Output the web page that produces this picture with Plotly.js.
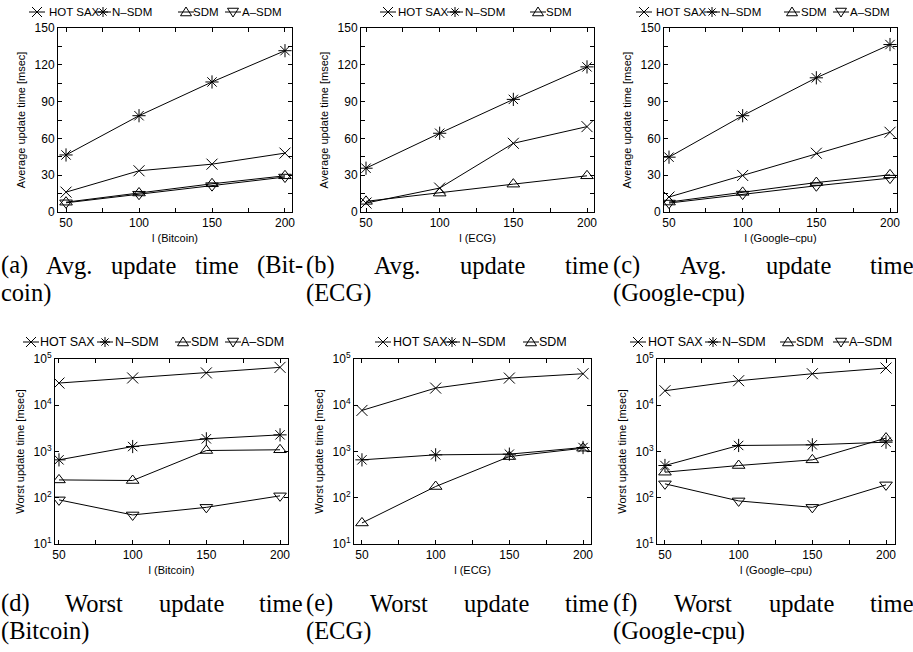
<!DOCTYPE html>
<html>
<head>
<meta charset="utf-8">
<script src="https://cdn.plot.ly/plotly-3.0.1.min.js"></script>
<style>html,body{margin:0;padding:0;background:#fff;}#chart{width:913px;height:652px;}</style>
</head>
<body>
<div id="chart"></div>
<script>
// ---------------- data ----------------
const windowLengths = [50, 100, 150, 200];
const seriesNames = ["HOT SAX", "N–SDM", "SDM", "A–SDM"];

// Average update time [msec]
const avgBitcoinHOTSAX = [16.2, 33.6, 39, 48];
const avgBitcoinNSDM   = [46.5, 78.5, 106, 131.5];
const avgBitcoinSDM    = [8, 15.5, 23, 29.5];
const avgBitcoinASDM   = [7.5, 14.5, 21.5, 28.5];

const avgECGHOTSAX = [7.3, 19.5, 56, 69.6];
const avgECGNSDM   = [35.7, 64.2, 91.8, 118.3];
const avgECGSDM    = [8.7, 15.4, 22.7, 29.5];

const avgGoogleHOTSAX = [12.2, 29.8, 47.9, 65];
const avgGoogleNSDM   = [44.7, 78.5, 109.4, 136.5];
const avgGoogleSDM    = [8.1, 16, 24, 30.3];
const avgGoogleASDM   = [7.3, 14.6, 21.4, 27.6];

// Worst update time [msec]
const worstBitcoinHOTSAX = [30200, 38900, 50000, 66000];
const worstBitcoinNSDM   = [660, 1280, 1880, 2290];
const worstBitcoinSDM    = [243, 236, 1050, 1090];
const worstBitcoinASDM   = [90, 42.5, 62, 110];

const worstECGHOTSAX = [7730, 23500, 38700, 48000];
const worstECGNSDM   = [660, 847, 876, 1220];
const worstECGSDM    = [28.5, 175, 777, 1180];

const worstGoogleHOTSAX = [20600, 33900, 48000, 63800];
const worstGoogleNSDM   = [498, 1350, 1394, 1590];
const worstGoogleSDM    = [357, 498, 660, 1950];
const worstGoogleASDM   = [200, 85.5, 62, 190];

const logTickVals = [10, 100, 1000, 10000, 100000];
const logTickText = ["10<sup>1</sup>", "10<sup>2</sup>", "10<sup>3</sup>", "10<sup>4</sup>", "10<sup>5</sup>"];

const xTitles = ["l (Bitcoin)", "l (ECG)", "l (Google–cpu)", "l (Bitcoin)", "l (ECG)", "l (Google–cpu)"];
const yTitles = ["Average update time [msec]", "Worst update time [msec]"];

const captions = [
  {lines: [["(a)", "Avg.", "update", "time", "(Bit-"], ["coin)"]], x0: 0, x1: 302, row: 0},
  {lines: [["(b)", "Avg.", "update", "time"], ["(ECG)"]], x0: 305, x1: 608, row: 0},
  {lines: [["(c)", "Avg.", "update", "time"], ["(Google-cpu)"]], x0: 612, x1: 913, row: 0},
  {lines: [["(d)", "Worst", "update", "time"], ["(Bitcoin)"]], x0: 0, x1: 302, row: 1},
  {lines: [["(e)", "Worst", "update", "time"], ["(ECG)"]], x0: 305, x1: 608, row: 1},
  {lines: [["(f)", "Worst", "update", "time"], ["(Google-cpu)"]], x0: 612, x1: 913, row: 1}
];

// ---------------- layout helpers ----------------
const W = 913, H = 652;
const symbols = ["x-thin-open", "asterisk-open", "triangle-up-open", "triangle-down-open"];
const glyphs = ["x", "asterisk", "tri-up", "tri-down"];

// legend key layout per panel: y centre, font size, [sample centre x, text left x] per entry
const panels = [
  {series: [avgBitcoinHOTSAX, avgBitcoinNSDM, avgBitcoinSDM, avgBitcoinASDM], px: [58, 292], py: [28, 212], xr: [44.5, 204.8], log: false,
   legY: 12, legFont: 11.5, leg: [[37, 48], [103, 111], [186, 192], [233, 241]]},
  {series: [avgECGHOTSAX, avgECGNSDM, avgECGSDM, null], px: [361, 594], py: [28, 212], xr: [46.6, 204.75], log: false,
   legY: 12, legFont: 11.5, leg: [[388, 397], [455, 464], [538, 545], null]},
  {series: [avgGoogleHOTSAX, avgGoogleNSDM, avgGoogleSDM, avgGoogleASDM], px: [664, 897], py: [28, 212], xr: [46.6, 204.75], log: false,
   legY: 12, legFont: 11.5, leg: [[644, 655], [712, 720], [792, 800], [841, 849]]},
  {series: [worstBitcoinHOTSAX, worstBitcoinNSDM, worstBitcoinSDM, worstBitcoinASDM], px: [55, 288], py: [359, 544], xr: [47.3, 205.4], log: true,
   legY: 342, legFont: 12.5, leg: [[31, 39], [105, 114], [183, 190], [233, 240]]},
  {series: [worstECGHOTSAX, worstECGNSDM, worstECGSDM, null], px: [354, 591], py: [359, 544], xr: [44.6, 205.4], log: true,
   legY: 342, legFont: 12.5, leg: [[383, 392], [452, 461], [531, 538], null]},
  {series: [worstGoogleHOTSAX, worstGoogleNSDM, worstGoogleSDM, worstGoogleASDM], px: [657, 895], py: [359, 544], xr: [44.6, 206.1], log: true,
   legY: 342, legFont: 12.5, leg: [[638, 647], [713, 721], [788, 795], [841, 848]]}
];

const baseFont = "Liberation Sans, Arial, Helvetica, sans-serif";
const traces = [];
const layout = {
  width: W, height: H,
  margin: {l: 0, r: 0, t: 0, b: 0, autoexpand: false},
  paper_bgcolor: "#ffffff", plot_bgcolor: "#ffffff",
  font: {family: baseFont, color: "#000000", size: 11},
  annotations: [], shapes: [],
  showlegend: false
};

const PX = x => x / W, PY = y => 1 - y / H;
function seg(x1, y1, x2, y2) {
  return "M" + PX(x1) + "," + PY(y1) + "L" + PX(x2) + "," + PY(y2);
}
function glyphPath(kind, cx, cy, r) {
  if (kind === "x") return seg(cx - r, cy - r, cx + r, cy + r) + seg(cx - r, cy + r, cx + r, cy - r);
  if (kind === "asterisk") {
    const d = r * 0.72;
    return seg(cx, cy - r, cx, cy + r) + seg(cx - r, cy, cx + r, cy) + seg(cx - d, cy - d, cx + d, cy + d) + seg(cx - d, cy + d, cx + d, cy - d);
  }
  if (kind === "tri-up") return seg(cx, cy - r, cx + r * 1.1, cy + r * 0.75) + "L" + PX(cx - r * 1.1) + "," + PY(cy + r * 0.75) + "Z";
  return seg(cx, cy + r, cx + r * 1.1, cy - r * 0.75) + "L" + PX(cx - r * 1.1) + "," + PY(cy - r * 0.75) + "Z";
}

panels.forEach((p, i) => {
  const n = i + 1;
  const xa = "x" + (n === 1 ? "" : n), ya = "y" + (n === 1 ? "" : n);
  p.series.forEach((vals, k) => {
    if (!vals) return;
    traces.push({
      x: windowLengths, y: vals, name: seriesNames[k],
      xaxis: xa, yaxis: ya,
      type: "scatter", mode: "lines+markers",
      line: {color: "#000000", width: 1},
      marker: {symbol: symbols[k], size: 11, color: "#000000", line: {color: "#000000", width: 1}}
    });
    // legend key (drawn as layout decoration)
    const e = p.leg[k];
    const cx = e[0], cy = p.legY;
    layout.shapes.push({type: "path", xref: "paper", yref: "paper", path: seg(cx - 8, cy, cx + 8, cy), line: {color: "#000", width: 1}});
    layout.shapes.push({type: "path", xref: "paper", yref: "paper", path: glyphPath(glyphs[k], cx, cy, 5), line: {color: "#000", width: 1}, fillcolor: "rgba(0,0,0,0)"});
    layout.annotations.push({
      text: seriesNames[k], xref: "paper", yref: "paper", x: PX(e[1]), y: PY(cy),
      xanchor: "left", yanchor: "middle", showarrow: false, borderpad: 0,
      font: {family: baseFont, size: p.legFont, color: "#000"}
    });
  });
  const xKey = "xaxis" + (n === 1 ? "" : n), yKey = "yaxis" + (n === 1 ? "" : n);
  layout[xKey] = {
    domain: [PX(p.px[0]), PX(p.px[1])], range: p.xr, anchor: ya, automargin: false,
    showline: true, linecolor: "#000", linewidth: 1, mirror: "ticks",
    ticks: "inside", ticklen: 4, tickcolor: "#000", tickwidth: 1,
    tick0: 50, dtick: 50,
    minor: {dtick: 25, tick0: 50, ticks: "inside", ticklen: 4, tickcolor: "#000", showgrid: false},
    showgrid: false, zeroline: false,
    tickfont: {size: 12, family: baseFont},
    title: {text: xTitles[i], font: {size: 11, family: baseFont}, standoff: 4}
  };
  const ycfg = {
    domain: [PY(p.py[1]), PY(p.py[0])], anchor: xa, automargin: false,
    showline: true, linecolor: "#000", linewidth: 1, mirror: "ticks",
    ticks: "inside", ticklen: 4, tickcolor: "#000", tickwidth: 1,
    showgrid: false, zeroline: false,
    tickfont: {size: 12, family: baseFont},
    title: {text: yTitles[p.log ? 1 : 0], font: {size: 11, family: baseFont}, standoff: 6}
  };
  if (p.log) {
    ycfg.type = "log"; ycfg.range = [1, 5];
    ycfg.tickmode = "array"; ycfg.tickvals = logTickVals; ycfg.ticktext = logTickText;
  } else {
    ycfg.range = [0, 150]; ycfg.tick0 = 0; ycfg.dtick = 30;
    ycfg.minor = {dtick: 15, tick0: 0, ticks: "inside", ticklen: 4, tickcolor: "#000", showgrid: false};
  }
  layout[yKey] = ycfg;
});

// ---------------- captions (justified like the LaTeX subcaptions) ----------------
const capFontSize = 24.5;
const capFamily = "Liberation Serif";
const ctx = document.createElement("canvas").getContext("2d");
ctx.font = capFontSize + "px '" + capFamily + "'";
const lineY = [[265, 293], [603, 631]];
captions.forEach(c => {
  c.lines.forEach((words, li) => {
    const py = lineY[c.row][li];
    if (li === 0 && words.length > 1) {
      const widths = words.map(w => ctx.measureText(w).width);
      const total = widths.reduce((a, b) => a + b, 0);
      const gap = (c.x1 - c.x0 - total) / (words.length - 1);
      let x = c.x0;
      words.forEach((w, wi) => {
        layout.annotations.push({
          text: w, xref: "paper", yref: "paper", x: PX(x), y: PY(py),
          xanchor: "left", yanchor: "middle", showarrow: false, borderpad: 0,
          font: {family: capFamily + ", serif", size: capFontSize, color: "#000"}
        });
        x += widths[wi] + gap;
      });
    } else {
      layout.annotations.push({
        text: words.join(" "), xref: "paper", yref: "paper", x: PX(c.x0), y: PY(py),
        xanchor: "left", yanchor: "middle", showarrow: false, borderpad: 0,
        font: {family: capFamily + ", serif", size: capFontSize, color: "#000"}
      });
    }
  });
});

Plotly.newPlot("chart", traces, layout, {displayModeBar: false, staticPlot: true});
</script>
</body>
</html>
